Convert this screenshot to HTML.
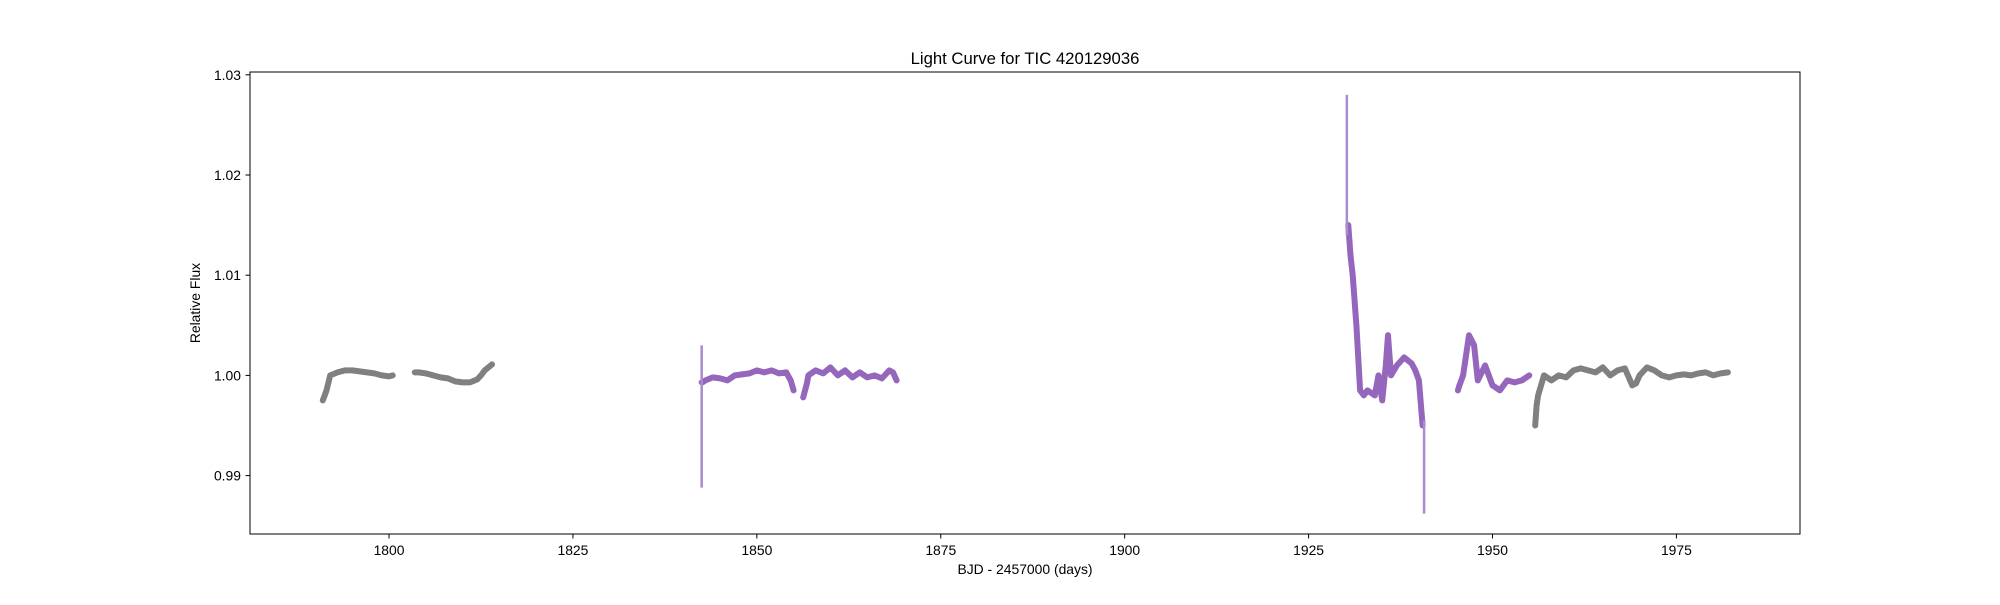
<!DOCTYPE html>
<html><head><meta charset="utf-8"><style>
body{margin:0;background:#fff}
svg text{font-family:"Liberation Sans","DejaVu Sans",sans-serif;fill:#000}
</style></head><body>
<svg id="chart" width="2000" height="600">
<rect width="2000" height="600" fill="#fff"/>
<g id="marks"></g>
<rect x="250" y="72" width="1550" height="462" fill="none" stroke="#000" stroke-width="1"/>
<g id="xt"></g>
<g id="yt"></g>
<text x="1025" y="64" font-size="16.7" text-anchor="middle">Light Curve for TIC 420129036</text>
<text x="1025" y="574" font-size="13.9" text-anchor="middle">BJD - 2457000 (days)</text>
<text x="200" y="303" font-size="13.9" text-anchor="middle" transform="rotate(-90 200 303)">Relative Flux</text>
</svg>
<script>
const xTicks=[1800,1825,1850,1875,1900,1925,1950,1975];
const yTicks=[0.99,1.00,1.01,1.02,1.03];
const yTickLabels=["0.99","1.00","1.01","1.02","1.03"];
const segColors=["#808080","#808080","#9467bd","#9467bd","#9467bd","#9467bd","#808080"];
const seg1T=[1791,1791.5,1792,1793,1794,1795,1796,1797,1798,1799,1800,1800.5];
const seg1F=[0.9975,0.9985,1.0000,1.0003,1.0005,1.0005,1.0004,1.0003,1.0002,1.0000,0.9999,1.0000];
const seg2T=[1803.5,1804,1805,1806,1807,1808,1809,1810,1811,1812,1812.5,1813,1814];
const seg2F=[1.0003,1.0003,1.0002,1.0000,0.9998,0.9997,0.9994,0.9993,0.9993,0.9996,1.0000,1.0005,1.0011];
const seg3T=[1842.5,1842.6,1843,1844,1845,1846,1847,1848,1849,1850,1851,1852,1853,1854,1854.6,1855];
const seg3F=[0.9993,0.9993,0.9995,0.9998,0.9997,0.9995,1.0000,1.0001,1.0002,1.0005,1.0003,1.0005,1.0002,1.0003,0.9995,0.9985];
const seg4T=[1856.3,1856.8,1857,1858,1859,1860,1861,1862,1863,1864,1865,1866,1867,1868,1868.5,1869];
const seg4F=[0.9978,0.9992,1.0000,1.0005,1.0002,1.0008,1.0000,1.0005,0.9998,1.0003,0.9998,1.0000,0.9997,1.0005,1.0003,0.9995];
const seg5T=[1930.4,1930.7,1931,1931.5,1932,1932.5,1933,1934,1934.5,1935,1935.5,1935.8,1936.2,1937,1938,1939,1939.5,1940,1940.5];
const seg5F=[1.0150,1.0120,1.0100,1.0050,0.9985,0.9980,0.9985,0.9980,1.0000,0.9975,1.0010,1.0040,1.0000,1.0010,1.0018,1.0012,1.0005,0.9995,0.9950];
const seg6T=[1945.3,1945.5,1946,1946.8,1947.5,1948,1949,1950,1951,1952,1953,1954,1955];
const seg6F=[0.9985,0.9990,1.0000,1.0040,1.0030,0.9995,1.0010,0.9990,0.9985,0.9995,0.9993,0.9995,1.0000];
const seg7T=[1955.8,1956,1956.2,1957,1958,1959,1960,1961,1962,1963,1964,1965,1966,1967,1968,1969,1969.5,1970,1971,1972,1973,1974,1975,1976,1977,1978,1979,1980,1981,1982];
const seg7F=[0.9950,0.9970,0.9980,1.0000,0.9995,1.0000,0.9998,1.0005,1.0007,1.0005,1.0003,1.0008,1.0000,1.0005,1.0007,0.9990,0.9992,1.0000,1.0008,1.0005,1.0000,0.9998,1.0000,1.0001,1.0000,1.0002,1.0003,1.0000,1.0002,1.0003];
const segT=[seg1T,seg2T,seg3T,seg4T,seg5T,seg6T,seg7T];
const segF=[seg1F,seg2F,seg3F,seg4F,seg5F,seg6F,seg7F];
const spikeT=[1842.5,1930.2,1940.7];
const spikeLo=[0.9888,1.0140,0.9862];
const spikeHi=[1.0030,1.0280,0.9955];

const X0=250,X1=1800,Y0=72,Y1=534,xmin=1781.1,xmax=1991.8,ymin=0.98417,ymax=1.03028;
const xs=v=>X0+(v-xmin)/(xmax-xmin)*(X1-X0);
const ys=v=>Y1-(v-ymin)/(ymax-ymin)*(Y1-Y0);
const NS="http://www.w3.org/2000/svg";
const marks=document.getElementById('marks');
segT.forEach((ts,i)=>{
  const p=document.createElementNS(NS,'polyline');
  p.setAttribute('points',ts.map((t,j)=>xs(t).toFixed(1)+','+ys(segF[i][j]).toFixed(1)).join(' '));
  p.setAttribute('fill','none');p.setAttribute('stroke',segColors[i]);
  p.setAttribute('stroke-width','6');p.setAttribute('stroke-linejoin','round');p.setAttribute('stroke-linecap','round');
  
  
  marks.appendChild(p);
});
spikeT.forEach((t,i)=>{
  const l=document.createElementNS(NS,'line');
  l.setAttribute('x1',xs(t));l.setAttribute('x2',xs(t));
  l.setAttribute('y1',ys(spikeLo[i]));l.setAttribute('y2',ys(spikeHi[i]));
  l.setAttribute('stroke','#a98bd0');l.setAttribute('stroke-width','2.5');
  
  
  marks.appendChild(l);
});
const xt=document.getElementById('xt');
xTicks.forEach(v=>{
  const x=xs(v);
  const l=document.createElementNS(NS,'line');
  l.setAttribute('x1',x);l.setAttribute('x2',x);l.setAttribute('y1',534);l.setAttribute('y2',538.5);l.setAttribute('stroke','#000');
  
  
  xt.appendChild(l);
  const t=document.createElementNS(NS,'text');
  t.setAttribute('x',x);t.setAttribute('y',555);t.setAttribute('font-size','13.9');t.setAttribute('text-anchor','middle');
  t.textContent=v;
  
  
  xt.appendChild(t);
});
const yt=document.getElementById('yt');
yTicks.forEach((v,i)=>{
  const y=ys(v);
  const l=document.createElementNS(NS,'line');
  l.setAttribute('x1',245.5);l.setAttribute('x2',250);l.setAttribute('y1',y);l.setAttribute('y2',y);l.setAttribute('stroke','#000');
  
  
  yt.appendChild(l);
  const t=document.createElementNS(NS,'text');
  t.setAttribute('x',241);t.setAttribute('y',y+5);t.setAttribute('font-size','13.9');t.setAttribute('text-anchor','end');
  t.textContent=yTickLabels[i];
  
  
  yt.appendChild(t);
});
</script>
</body></html>
